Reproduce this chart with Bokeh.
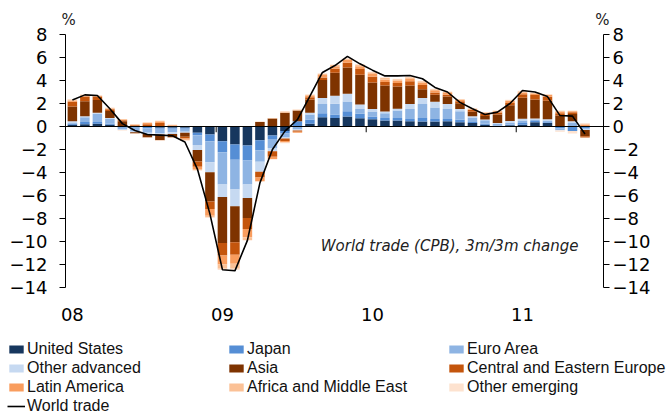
import numpy as np
from bokeh.plotting import figure
from bokeh.layouts import column
from bokeh.models import (Range1d, LinearAxis, FixedTicker, Span, Label, Legend,
                          LegendItem, ColumnDataSource, CustomJSTickFormatter)
from bokeh.embed import file_html
from bokeh.resources import INLINE

# ---- data (monthly, Jan 2008 .. Jun 2011), contributions in % points ----
years = ["08", "09", "10", "11"]
month_index = list(range(42))
month_of_year = [(i % 12) + 1 for i in month_index]

us = [0.15, 0.20, 0.25, 0.15, -0.05, -0.05, -0.05, -0.10, -0.10, -0.10,
      -0.55, -0.70, -1.28, -1.57, -1.65, -1.20, -0.78, -0.40, -0.05, 0.23,
      0.80, 0.75, 0.87, 0.72, 0.64, 0.52, 0.52, 0.46, 0.43, 0.43,
      0.46, 0.38, 0.30, 0.15, 0.05, 0.10, 0.15, 0.38, 0.30, -0.05,
      -0.05, -0.05]
japan = [0.10, 0.20, 0.15, 0.10, -0.05, -0.05, -0.10, -0.10, -0.10, -0.10,
         -0.20, -0.58, -0.96, -1.33, -1.30, -0.87, -0.30, -0.20, 0.45, 0.38,
         0.35, 0.30, 0.46, 0.38, 0.23, 0.23, 0.23, 0.20, 0.32, 0.23,
         0.20, 0.20, 0.10, 0.10, 0.03, 0.06, 0.15, 0.10, 0.08, -0.10,
         -0.35, -0.10]
euro = [0.10, 0.40, 0.70, 0.40, -0.15, -0.30, -0.40, -0.40, -0.30, -0.25,
        -0.85, -1.83, -2.80, -2.58, -2.10, -1.00, -0.78, -0.35, -0.20, 0.43,
        0.80, 0.93, 0.84, 0.43, 0.43, 0.40, 0.64, 0.87, 1.20, 1.00,
        0.87, 0.75, 0.38, 0.30, 0.17, 0.15, 0.23, 0.12, 0.15, -0.15,
        0.30, -0.10]
other_adv = [0.10, 0.10, 0.10, 0.10, -0.05, -0.10, -0.10, -0.10, -0.15, -0.10,
             -0.45, -0.87, -1.10, -1.45, -1.16, -0.87, -0.30, -0.10, -0.10, 0.15,
             0.52, 0.70, 0.67, 0.38, 0.23, 0.15, 0.15, 0.43, 0.52, 0.50,
             0.43, 0.20, 0.12, 0.06, 0.05, 0.17, 0.15, 0.10, 0.10, -0.05,
             0.15, -0.05]
asia = [1.30, 1.30, 1.10, 0.60, 0.45, -0.10, -0.30, -0.50, -0.30, -0.35,
        -1.00, -2.55, -4.00, -3.13, -1.74, 0.40, 0.70, 1.20, 0.95, 1.16,
        1.57, 2.00, 2.30, 2.60, 2.30, 2.26, 1.94, 1.60, 0.78, 0.60,
        0.64, 0.50, 0.38, 0.30, 0.75, 1.36, 1.83, 1.65, 1.60, 0.96,
        0.64, -0.55]
cee = [0.40, 0.40, 0.30, 0.15, 0.10, 0.10, 0.20, 0.30, 0.05, -0.15,
       -0.45, -0.64, -1.07, -1.10, -0.96, -0.50, -0.46, -0.20, -0.10, 0.20,
       0.23, 0.35, 0.40, 0.50, 0.50, 0.30, 0.30, 0.38, 0.35, 0.20,
       0.17, 0.17, 0.15, 0.17, 0.17, 0.20, 0.30, 0.38, 0.35, 0.20,
       0.15, -0.10]
latam = [0.10, 0.10, 0.05, 0.05, 0.05, 0.05, 0.10, 0.10, 0.05, -0.10,
         -0.20, -0.58, -0.78, -0.78, -0.72, -0.30, -0.20, -0.15, -0.10, 0.10,
         0.20, 0.20, 0.26, 0.23, 0.23, 0.23, 0.23, 0.20, 0.23, 0.20,
         0.15, 0.10, 0.08, 0.10, 0.10, 0.17, 0.15, 0.15, 0.15, 0.15,
         0.08, 0.15]
afme = [0.10, 0.05, 0.05, 0.05, 0.05, 0.05, 0.05, 0.10, 0.05, -0.05,
        -0.10, -0.15, -0.38, -0.43, -0.23, -0.05, 0.05, 0.10, 0.05, 0.10,
        0.12, 0.12, 0.10, 0.15, 0.15, 0.15, 0.10, 0.15, 0.10, 0.08,
        0.08, 0.06, 0.06, 0.05, 0.05, 0.08, 0.10, 0.06, 0.06, 0.06,
        0.04, 0.10]
other_em = [0.05, 0.05, 0.05, 0.05, -0.05, -0.05, -0.05, -0.05, -0.05, -0.05,
            -0.05, -0.05, -0.10, -0.10, -0.05, 0.05, -0.05, -0.05, 0.05, 0.05,
            0.05, 0.05, 0.05, 0.05, 0.05, 0.05, 0.05, 0.05, 0.05, 0.04,
            0.04, 0.04, 0.03, 0.03, 0.03, 0.04, 0.04, 0.03, 0.03, -0.10,
            -0.20, 0.05]
world_trade = [2.30, 2.75, 2.70, 1.55, 0.25, -0.35, -0.70, -0.75, -0.80, -1.35,
               -3.70, -7.60, -12.45, -12.55, -9.90, -4.90, -2.00, -0.40, 0.60, 2.65,
               4.70, 5.30, 6.10, 5.45, 4.90, 4.40, 4.40, 4.43, 4.15, 3.40,
               3.00, 2.10, 1.55, 1.05, 1.25, 2.00, 3.13, 3.00, 2.60, 0.95,
               0.90, -0.65]

series_names = ["United States", "Japan", "Euro Area", "Other advanced", "Asia",
                "Central and Eastern Europe", "Latin America",
                "Africa and Middle East", "Other emerging"]
series_values = [us, japan, euro, other_adv, asia, cee, latam, afme, other_em]
series_colors = ["#17375e", "#558ed5", "#8eb4e3", "#c6d9f1", "#7e3300",
                 "#c4550c", "#f99d5e", "#fbc196", "#fde2cf"]

x = np.array(month_index, dtype=float)

p = figure(width=666, height=330, x_range=Range1d(-0.55, 42.48),
           y_range=Range1d(-14, 8), output_backend="svg", toolbar_location=None,
           x_axis_location=None, y_axis_location=None,
           min_border_left=65, min_border_right=63, min_border_top=34,
           min_border_bottom=43)
p.grid.visible = False
p.outline_line_color = None
p.background_fill_color = "white"

# stacked bars: positives stack up from 0, negatives stack down from 0
pos = np.zeros(len(x))
neg = np.zeros(len(x))
for name, vals, col in zip(series_names, series_values, series_colors):
    v = np.array(vals, dtype=float)
    bottom = np.where(v >= 0, pos, neg + v)
    top = np.where(v >= 0, pos + v, neg)
    pos = np.where(v >= 0, pos + v, pos)
    neg = np.where(v < 0, neg + v, neg)
    src = ColumnDataSource(dict(x=x, bottom=bottom, top=top))
    p.vbar(x="x", bottom="bottom", top="top", width=0.76, source=src,
           fill_color=col, line_color=None)

# zero line and year ticks
p.add_layout(Span(location=0, dimension="width", line_color="black", line_width=1))
year_bounds = [i - 0.5 for i, m in zip(month_index, month_of_year) if m == 1 and i > 0]
p.segment(x0=year_bounds, y0=[0] * len(year_bounds), x1=year_bounds,
          y1=[-0.5] * len(year_bounds), line_color="black", line_width=1)

p.line(x, world_trade, line_color="black", line_width=1.6)

# axes
yticks = list(range(-14, 9, 2))
for side, standoff in (("left", 12), ("right", 3)):
    ax = LinearAxis(ticker=FixedTicker(ticks=yticks))
    ax.major_tick_in = 0
    ax.major_tick_out = 6
    ax.minor_tick_line_color = None
    ax.axis_line_color = "black"
    ax.major_tick_line_color = "black"
    ax.major_label_text_font = "DejaVu Sans"
    ax.major_label_text_font_size = "18px"
    ax.major_label_text_color = "black"
    ax.major_label_standoff = standoff
    p.add_layout(ax, side)

# "%" unit markers above both axes
pa = LinearAxis(ticker=FixedTicker(ticks=[-0.3, 42.4]),
                formatter=CustomJSTickFormatter(code='return "%"'))
pa.axis_line_color = None
pa.major_tick_line_color = None
pa.minor_tick_line_color = None
pa.major_label_text_font = "DejaVu Sans"
pa.major_label_text_font_size = "15px"
pa.major_label_text_color = "#222222"
pa.major_label_standoff = 0
p.add_layout(pa, "above")

year_ticks = [i for i, m in zip(month_index, month_of_year) if m == 1]
xa = LinearAxis(ticker=FixedTicker(ticks=year_ticks),
                major_label_overrides={t: lab for t, lab in zip(year_ticks, years)})
xa.axis_line_color = None
xa.major_tick_line_color = None
xa.minor_tick_line_color = None
xa.major_label_text_font = "DejaVu Sans"
xa.major_label_text_font_size = "18px"
xa.major_label_text_color = "black"
xa.major_label_standoff = 14
p.add_layout(xa, "below")

p.add_layout(Label(x=40.48, y=-10.43, text="World trade (CPB), 3m/3m change",
                   text_align="right", text_baseline="middle",
                   text_font="DejaVu Sans", text_font_style="italic",
                   text_font_size="15px", text_color="#222222"))

# ---- legend strip below the chart ----
# its renderers hold the same series but lie outside the strip's visible range
lg = figure(width=666, height=82, x_range=Range1d(-100, -99), y_range=Range1d(0, 1),
            output_backend="svg", toolbar_location=None,
            x_axis_location=None, y_axis_location=None,
            min_border_left=0, min_border_right=0, min_border_top=0,
            min_border_bottom=0)
lg.grid.visible = False
lg.outline_line_color = None

try:
    p.frame_align = False
    lg.frame_align = False
except Exception:
    pass

items = []
for name, vals, col in zip(series_names, series_values, series_colors):
    r = lg.vbar(x=x, top=vals, width=0.76, fill_color=col, line_color=None)
    items.append(LegendItem(label=name, renderers=[r]))
rl = lg.line(x=x, y=world_trade, line_color="black", line_width=1.6)
items.append(LegendItem(label="World trade", renderers=[rl]))

legend = Legend(items=items, orientation="horizontal", ncols=3,
                location=(7, -3), glyph_width=18, glyph_height=10,
                label_height=19, label_width=200, label_standoff=2, spacing=0,
                padding=0, margin=0, border_line_color=None,
                background_fill_alpha=0, label_text_font="Liberation Sans",
                label_text_font_size="16px", label_text_color="#111111")
lg.add_layout(legend)

layout = column(p, lg, spacing=0)
open("out.html", "w").write(file_html(layout, INLINE))
